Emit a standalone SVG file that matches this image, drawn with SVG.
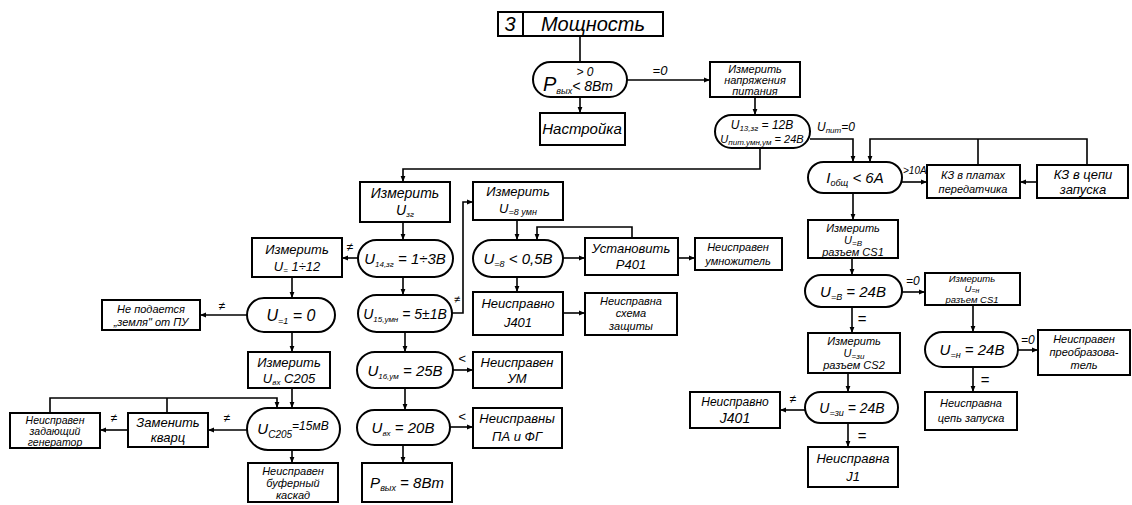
<svg xmlns="http://www.w3.org/2000/svg" width="1132" height="505" viewBox="0 0 1132 505">
<defs>
<marker id="a" viewBox="0 0 10 10" refX="10" refY="5" markerWidth="4" markerHeight="4" orient="auto"><path d="M0,1 L10,5 L0,9 z" fill="#000"/></marker>
<style>
.b{fill:#fff;stroke:#000;stroke-width:2}
.c{fill:none;stroke:#000;stroke-width:1.6}
.ca{fill:none;stroke:#000;stroke-width:1.6;marker-end:url(#a)}
text{font-family:"Liberation Sans",Arial,sans-serif;font-style:italic;fill:#000;text-anchor:middle}
.s{font-size:8px}
</style>
</defs>
<rect width="1132" height="505" fill="#fff"/>
<g id="connectors">
<path class="c" d="M580,36 V62"/>
<path class="ca" d="M627,80 H710"/>
<path class="ca" d="M580,97 V113"/>
<path class="ca" d="M755,97 V115"/>
<path class="ca" d="M810,139 H853 V162"/>
<path class="ca" d="M760,148 V169 H403 V182"/>
<path class="ca" d="M1087,165 V139 H870 V162"/>
<path class="c" d="M978,165 V139"/>
<path class="ca" d="M900,182 H927"/>
<path class="ca" d="M1037,182 H1020"/>
<path class="ca" d="M853,193 V220"/>
<path class="ca" d="M852,258 V275"/>
<path class="ca" d="M902,292 H925"/>
<path class="ca" d="M973,305 V332"/>
<path class="ca" d="M1018,350 H1038"/>
<path class="ca" d="M973,367 V392"/>
<path class="ca" d="M852,307 V333"/>
<path class="ca" d="M848,373 V392"/>
<path class="ca" d="M805,410 H780"/>
<path class="ca" d="M848,423 V447"/>
<path class="ca" d="M403,222 V240"/>
<path class="ca" d="M358,258 H342"/>
<path class="ca" d="M292,277 V298"/>
<path class="ca" d="M247,315 H200"/>
<path class="ca" d="M292,332 V352"/>
<path class="ca" d="M292,388 V408"/>
<path class="ca" d="M50,413 V398 H277 V408"/>
<path class="c" d="M167,413 V398"/>
<path class="ca" d="M247,430 H208"/>
<path class="ca" d="M128,430 H100"/>
<path class="ca" d="M292,450 V463"/>
<path class="ca" d="M403,277 V295"/>
<path class="ca" d="M452,313 H463 V202 H473"/>
<path class="ca" d="M517,220 V240"/>
<path class="ca" d="M563,258 H585"/>
<path class="ca" d="M632,238 V227 H537 V240"/>
<path class="ca" d="M678,258 H695"/>
<path class="ca" d="M517,277 V292"/>
<path class="ca" d="M563,313 H585"/>
<path class="ca" d="M405,332 V352"/>
<path class="ca" d="M453,370 H473"/>
<path class="ca" d="M405,388 V410"/>
<path class="ca" d="M450,427 H473"/>
<path class="ca" d="M403,445 V463"/>
<text x="660" y="75" font-size="13">=0</text>
<text x="817" y="131" font-size="12" style="text-anchor:start">U<tspan class="s" dy="2">пит</tspan><tspan dy="-2">=0</tspan></text>
<text x="903" y="174" font-size="10" style="text-anchor:start">&gt;10А</text>
<text x="906" y="285" font-size="12" style="text-anchor:start">=0</text>
<text x="1021" y="344" font-size="12" style="text-anchor:start">=0</text>
<text x="985" y="385" font-size="15">=</text>
<text x="862" y="324" font-size="15">=</text>
<text x="862" y="441" font-size="15">=</text>
<text x="793" y="403" font-size="12">≠</text>
<text x="350" y="251" font-size="12">≠</text>
<text x="222" y="310" font-size="12">≠</text>
<text x="227" y="422" font-size="12">≠</text>
<text x="114" y="422" font-size="12">≠</text>
<text x="457" y="303" font-size="11">≠</text>
<text x="462" y="363" font-size="13">&lt;</text>
<text x="462" y="421" font-size="13">&lt;</text>
</g>
<g id="title">
<rect class="b" x="498" y="12" width="165" height="24"/>
<line x1="523" y1="12" x2="523" y2="36" stroke="#000" stroke-width="2"/>
<text x="510" y="31" font-size="20">3</text>
<text x="593" y="31" font-size="20">Мощность</text>
</g>
<g id="p-check">
<rect class="b" x="533" y="62" width="94" height="35" rx="17.5"/>
<text x="543" y="91" font-size="20" style="text-anchor:start">P<tspan font-size="9" dy="3">вых</tspan><tspan font-size="14" dy="-3">&lt; 8Вт</tspan></text>
<text x="585" y="76" font-size="12">&gt; 0</text>
</g>
<g id="nastroika">
<rect class="b" x="540" y="113" width="85" height="32"/>
<text x="582" y="134" font-size="15">Настройка</text>
</g>
<g id="measure-supply">
<rect class="b" x="710" y="62" width="90" height="35"/>
<text x="755" y="73" font-size="11">Измерить</text>
<text x="755" y="84" font-size="11">напряжения</text>
<text x="755" y="95" font-size="11">питания</text>
</g>
<g id="u13-check">
<rect class="b" x="715" y="115" width="95" height="33" rx="16.5"/>
<text x="762" y="129" font-size="12">U<tspan class="s" dy="2">13,зг</tspan><tspan dy="-2"> = 12В</tspan></text>
<text x="762" y="143" font-size="11">U<tspan class="s" dy="2">пит.умн,ум</tspan><tspan dy="-2"> = 24В</tspan></text>
</g>
<g id="i-check">
<rect class="b" x="808" y="162" width="94" height="31" rx="15.5"/>
<text x="855" y="183" font-size="15">I<tspan font-size="9" dy="3">общ</tspan><tspan dy="-3"> &lt; 6А</tspan></text>
</g>
<g id="kz-boards">
<rect class="b" x="927" y="165" width="93" height="33"/>
<text x="973" y="179" font-size="11">КЗ в платах</text>
<text x="973" y="193" font-size="11">передатчика</text>
</g>
<g id="kz-start">
<rect class="b" x="1037" y="165" width="91" height="33"/>
<text x="1083" y="179" font-size="13">КЗ  в цепи</text>
<text x="1083" y="194" font-size="13">запуска</text>
</g>
<g id="measure-cs1">
<rect class="b" x="808" y="220" width="90" height="38"/>
<text x="853" y="232" font-size="11">Измерить</text>
<text x="853" y="244" font-size="11">U<tspan class="s" dy="2">=В</tspan></text>
<text x="853" y="256" font-size="11">разъем CS1</text>
</g>
<g id="ub-check">
<rect class="b" x="805" y="275" width="97" height="32" rx="16"/>
<text x="853" y="297" font-size="15">U<tspan font-size="9" dy="3">=В</tspan><tspan dy="-3"> = 24В</tspan></text>
</g>
<g id="measure-un">
<rect class="b" x="925" y="273" width="95" height="32"/>
<text x="972" y="282" font-size="9.5">Измерить</text>
<text x="972" y="292" font-size="9.5">U<tspan font-size="7" dy="1">=н</tspan></text>
<text x="972" y="302.5" font-size="9.5">разъем CS1</text>
</g>
<g id="un-check">
<rect class="b" x="925" y="332" width="93" height="35" rx="17.5"/>
<text x="972" y="355" font-size="15">U<tspan font-size="9" dy="3">=н</tspan><tspan dy="-3"> = 24В</tspan></text>
</g>
<g id="converter-fault">
<rect class="b" x="1038" y="330" width="92" height="45"/>
<text x="1084" y="343" font-size="11">Неисправен</text>
<text x="1084" y="356" font-size="11">преобразова-</text>
<text x="1084" y="369" font-size="11">тель</text>
</g>
<g id="start-circuit-fault">
<rect class="b" x="925" y="392" width="92" height="38"/>
<text x="971" y="407" font-size="11">Неисправна</text>
<text x="971" y="422" font-size="11">цепь запуска</text>
</g>
<g id="measure-cs2">
<rect class="b" x="808" y="333" width="92" height="40"/>
<text x="854" y="345" font-size="11">Измерить</text>
<text x="854" y="357" font-size="11">U<tspan class="s" dy="2">=зи</tspan></text>
<text x="854" y="369" font-size="11">разъем CS2</text>
</g>
<g id="uzi-check">
<rect class="b" x="805" y="392" width="93" height="31" rx="15.5"/>
<text x="852" y="413" font-size="14">U<tspan font-size="9" dy="3">=зи</tspan><tspan dy="-3"> = 24В</tspan></text>
</g>
<g id="j401-fault-right">
<rect class="b" x="690" y="392" width="90" height="36"/>
<text x="735" y="406" font-size="12">Неисправно</text>
<text x="735" y="423" font-size="14">J401</text>
</g>
<g id="j1-fault">
<rect class="b" x="808" y="447" width="90" height="40"/>
<text x="853" y="463" font-size="13">Неисправна</text>
<text x="853" y="481" font-size="13">J1</text>
</g>
<g id="measure-uzg">
<rect class="b" x="360" y="182" width="90" height="40"/>
<text x="405" y="198" font-size="14">Измерить</text>
<text x="405" y="215" font-size="14">U<tspan font-size="8" dy="2">зг</tspan></text>
</g>
<g id="u14-check">
<rect class="b" x="358" y="240" width="95" height="37" rx="18.5"/>
<text x="405" y="264" font-size="15">U<tspan font-size="8" dy="3">14,зг</tspan><tspan dy="-3"> = 1÷3В</tspan></text>
</g>
<g id="measure-u1">
<rect class="b" x="252" y="238" width="90" height="39"/>
<text x="297" y="254" font-size="13">Измерить</text>
<text x="297" y="271" font-size="13">U<tspan font-size="8" dy="2">=</tspan><tspan dy="-2"> 1÷12</tspan></text>
</g>
<g id="u1-check">
<rect class="b" x="247" y="298" width="88" height="34" rx="17"/>
<text x="291" y="321" font-size="16">U<tspan font-size="9" dy="3">=1</tspan><tspan dy="-3"> = 0</tspan></text>
</g>
<g id="ground-fault">
<rect class="b" x="102" y="300" width="98" height="30"/>
<text x="151" y="313" font-size="11">Не подается</text>
<text x="151" y="326" font-size="11">„земля" от ПУ</text>
</g>
<g id="measure-c205">
<rect class="b" x="248" y="352" width="82" height="36"/>
<text x="289" y="367" font-size="13">Измерить</text>
<text x="289" y="383" font-size="13">U<tspan font-size="8" dy="2">вх</tspan><tspan dy="-2"> C205</tspan></text>
</g>
<g id="c205-check">
<rect class="b" x="247" y="408" width="93" height="42" rx="21"/>
<text x="293" y="434" font-size="15">U<tspan font-size="10" dy="4">C205</tspan><tspan font-size="12" dy="-8">=15мВ</tspan></text>
</g>
<g id="replace-quartz">
<rect class="b" x="128" y="413" width="80" height="34"/>
<text x="168" y="427" font-size="13">Заменить</text>
<text x="168" y="442" font-size="13">кварц</text>
</g>
<g id="master-osc-fault">
<rect class="b" x="10" y="413" width="90" height="35"/>
<text x="55" y="424" font-size="10.5">Неисправен</text>
<text x="55" y="435" font-size="10.5">задающий</text>
<text x="55" y="446" font-size="10.5">генератор</text>
</g>
<g id="buffer-fault">
<rect class="b" x="248" y="463" width="90" height="39"/>
<text x="293" y="475" font-size="11">Неисправен</text>
<text x="293" y="487" font-size="11">буферный</text>
<text x="293" y="499" font-size="11">каскад</text>
</g>
<g id="u15-check">
<rect class="b" x="358" y="295" width="94" height="37" rx="18.5"/>
<text x="405" y="319" font-size="14">U<tspan font-size="8" dy="3">15,умн</tspan><tspan dy="-3"> = 5±1В</tspan></text>
</g>
<g id="measure-u8">
<rect class="b" x="473" y="182" width="90" height="38"/>
<text x="518" y="196" font-size="13">Измерить</text>
<text x="518" y="213" font-size="13">U<tspan font-size="9" dy="2">=8 умн</tspan></text>
</g>
<g id="u8-check">
<rect class="b" x="473" y="240" width="90" height="37" rx="18.5"/>
<text x="518" y="264" font-size="15">U<tspan font-size="9" dy="3">=8</tspan><tspan dy="-3"> &lt; 0,5В</tspan></text>
</g>
<g id="set-r401">
<rect class="b" x="585" y="238" width="93" height="37"/>
<text x="631" y="253" font-size="13">Установить</text>
<text x="631" y="269" font-size="13">Р401</text>
</g>
<g id="multiplier-fault">
<rect class="b" x="695" y="238" width="87" height="32"/>
<text x="738" y="251" font-size="11">Неисправен</text>
<text x="738" y="265" font-size="11">умножитель</text>
</g>
<g id="j401-fault">
<rect class="b" x="473" y="292" width="90" height="43"/>
<text x="518" y="308" font-size="13">Неисправно</text>
<text x="518" y="327" font-size="13">J401</text>
</g>
<g id="protection-fault">
<rect class="b" x="585" y="293" width="92" height="42"/>
<text x="631" y="305" font-size="11">Неисправна</text>
<text x="631" y="317" font-size="11">схема</text>
<text x="631" y="330" font-size="11">защиты</text>
</g>
<g id="u16-check">
<rect class="b" x="357" y="352" width="96" height="36" rx="18"/>
<text x="405" y="376" font-size="15">U<tspan font-size="8" dy="3">16,ум</tspan><tspan dy="-3"> = 25В</tspan></text>
</g>
<g id="pa-fault">
<rect class="b" x="473" y="352" width="89" height="36"/>
<text x="517" y="367" font-size="13">Неисправен</text>
<text x="517" y="383" font-size="13">УМ</text>
</g>
<g id="uin-check">
<rect class="b" x="357" y="410" width="93" height="35" rx="17.5"/>
<text x="403" y="433" font-size="15">U<tspan font-size="8" dy="3">вх</tspan><tspan dy="-3"> = 20В</tspan></text>
</g>
<g id="pa-fg-fault">
<rect class="b" x="473" y="408" width="89" height="40"/>
<text x="517" y="423" font-size="13">Неисправны</text>
<text x="517" y="441" font-size="13">ПА и ФГ</text>
</g>
<g id="pout-ok">
<rect class="b" x="362" y="463" width="90" height="39"/>
<text x="407" y="488" font-size="15">P<tspan font-size="9" dy="3">вых</tspan><tspan dy="-3"> = 8Вт</tspan></text>
</g>
</svg>
